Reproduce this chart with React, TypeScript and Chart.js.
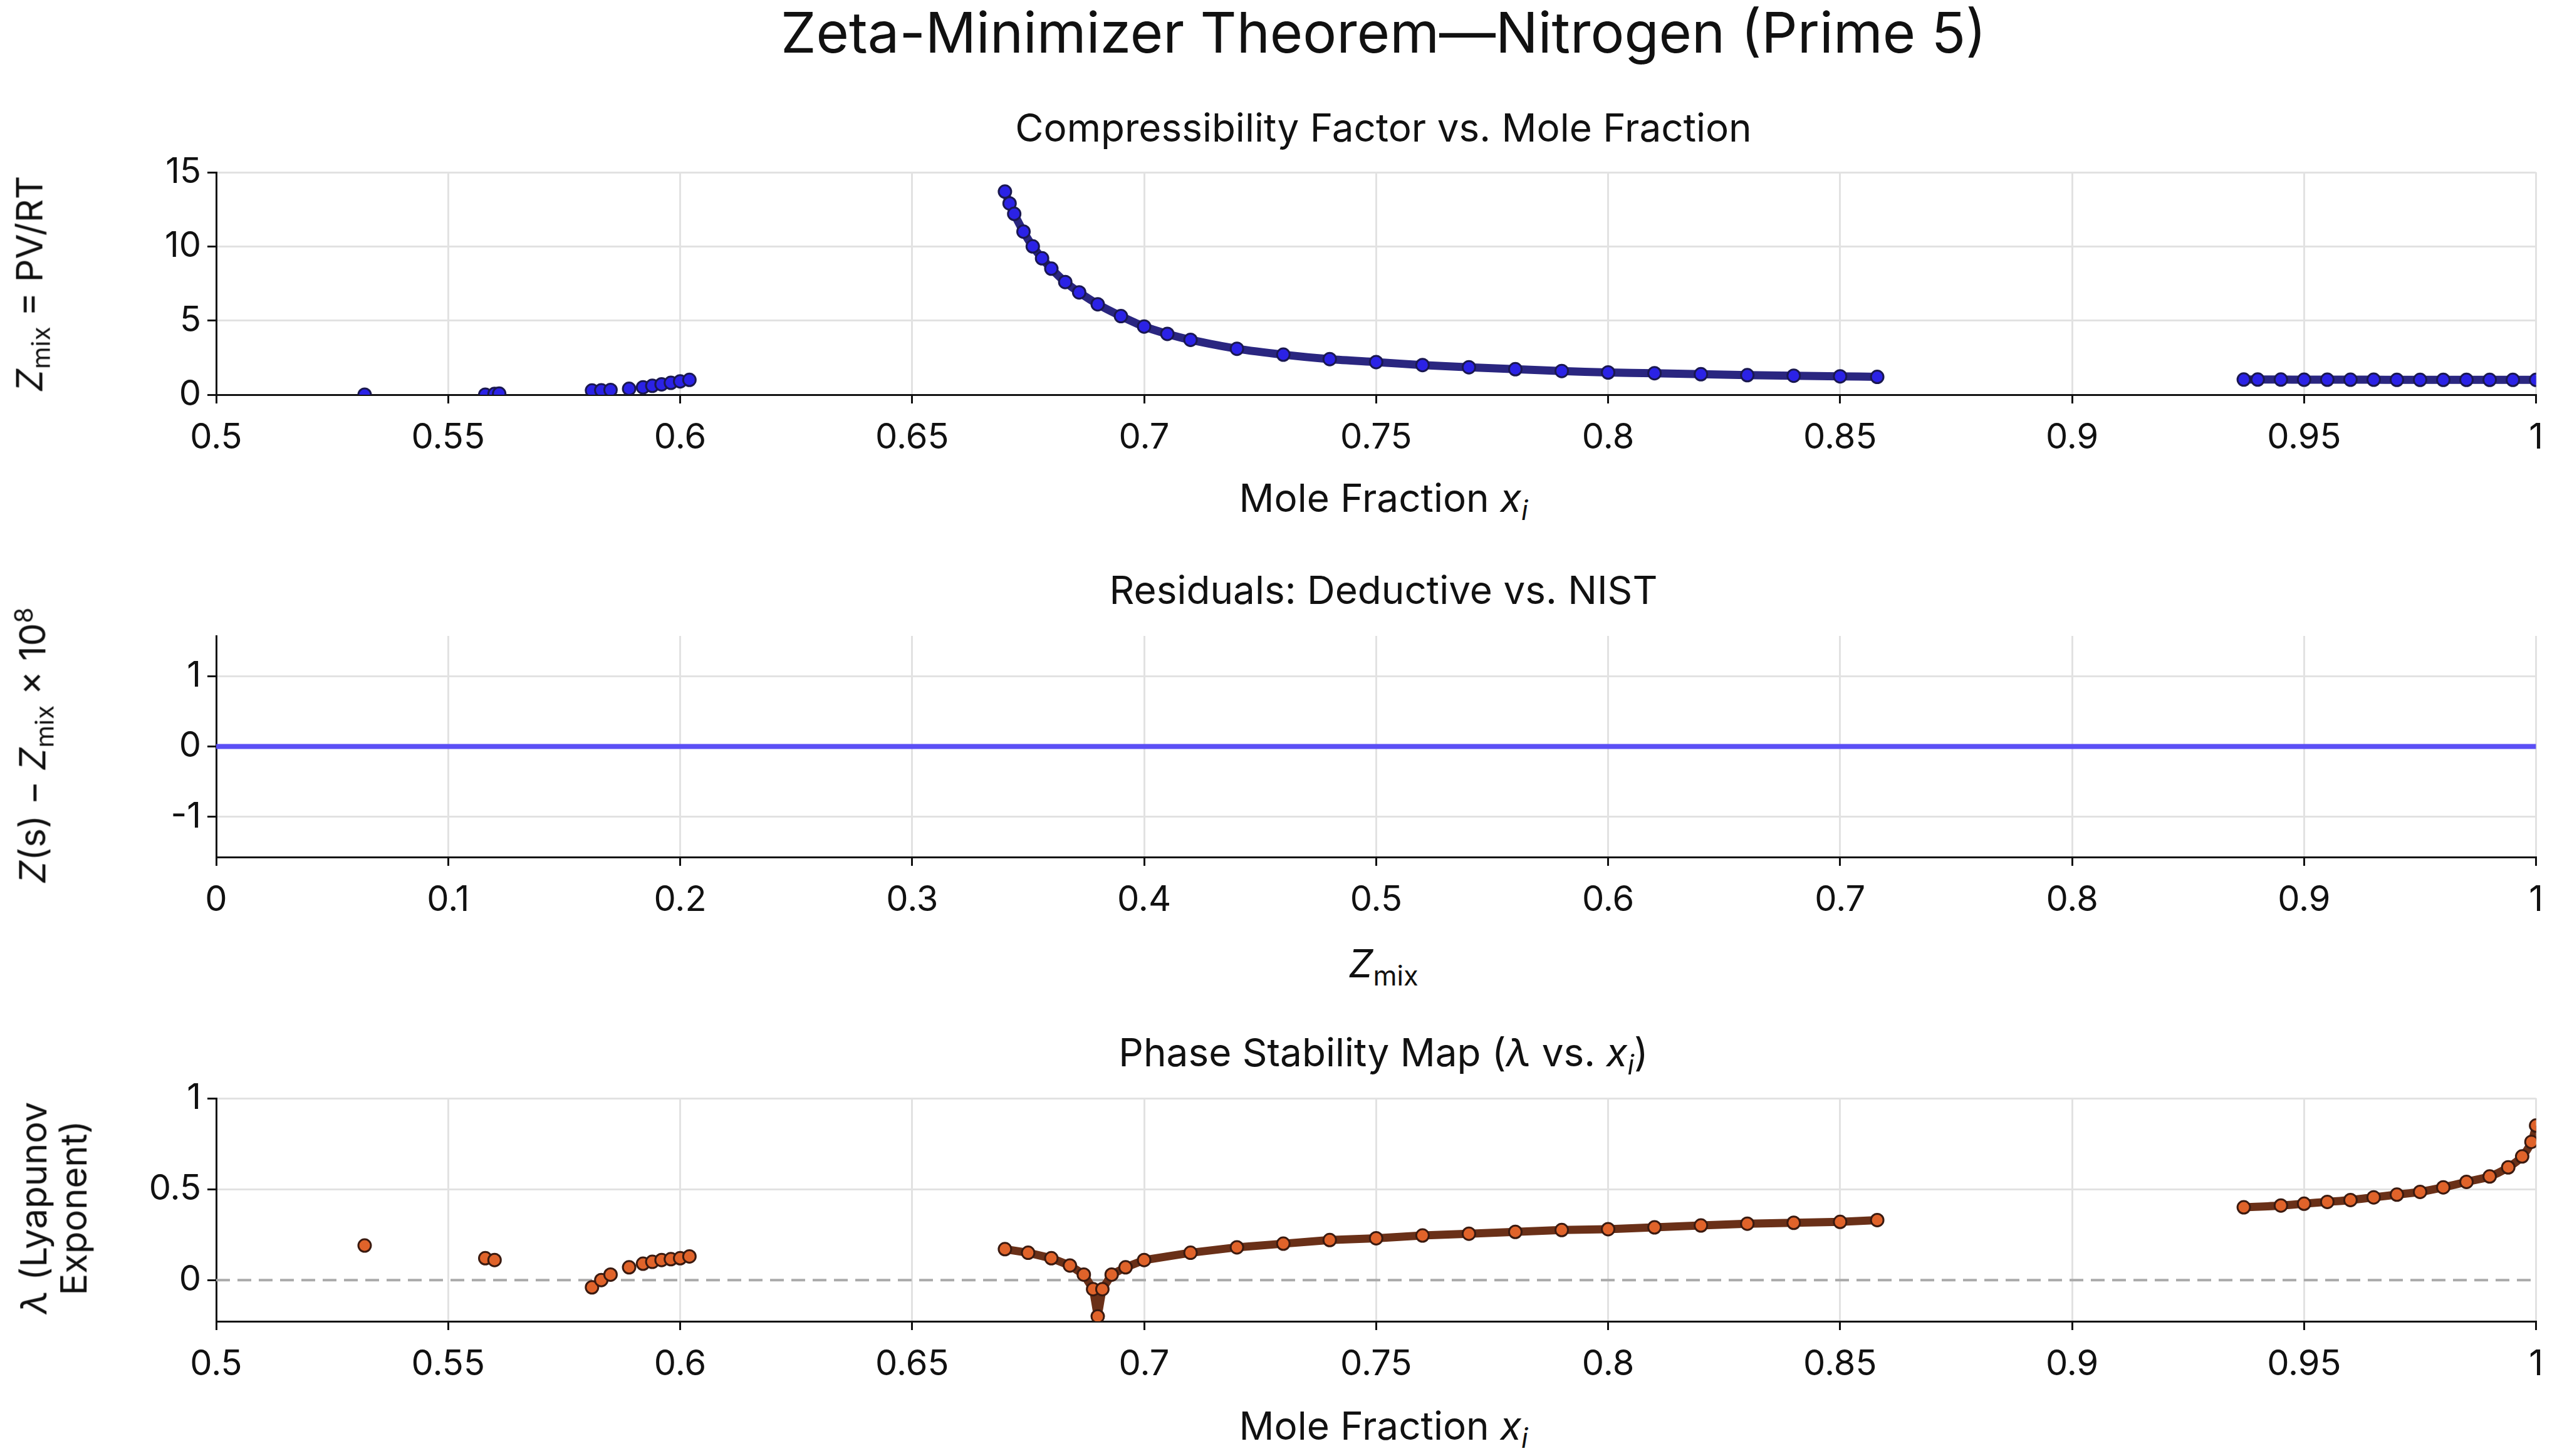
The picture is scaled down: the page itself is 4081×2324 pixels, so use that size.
import React, { useEffect, useRef } from "react";
import { Chart, registerables } from "chart.js";
Chart.register(...registerables);

const W = 4081;
const FONT = "Inter, 'Open Sans', sans-serif";
const PT = 45;

// Panel 1: Z_mix vs x_i
const zSparseX = [0.532, 0.558, 0.560, 0.561, 0.581, 0.583, 0.585, 0.589, 0.592, 0.594, 0.596, 0.598, 0.600, 0.602];
const zSparseY = [0.0, 0.0, 0.05, 0.07, 0.28, 0.3, 0.32, 0.4, 0.5, 0.6, 0.7, 0.8, 0.9, 1.0];
const zMidX = [0.670, 0.671, 0.672, 0.674, 0.676, 0.678, 0.680, 0.683, 0.686, 0.690, 0.695, 0.700, 0.705, 0.710, 0.720, 0.730, 0.740, 0.750, 0.760, 0.770, 0.780, 0.790, 0.800, 0.810, 0.820, 0.830, 0.840, 0.850, 0.858];
const zMidY = [13.7, 12.9, 12.2, 11.0, 10.0, 9.2, 8.5, 7.6, 6.9, 6.1, 5.3, 4.6, 4.1, 3.7, 3.1, 2.7, 2.4, 2.2, 2.0, 1.85, 1.72, 1.6, 1.5, 1.45, 1.38, 1.32, 1.28, 1.24, 1.2];
const zHighX = [0.937, 0.940, 0.945, 0.950, 0.955, 0.960, 0.965, 0.970, 0.975, 0.980, 0.985, 0.990, 0.995, 1.000];
const zHighY = [1.02, 1.02, 1.02, 1.01, 1.01, 1.01, 1.01, 1.0, 1.0, 1.0, 1.0, 1.0, 1.0, 1.0];

// Panel 2: residuals
const resX = [0, 0.25, 0.5, 0.75, 1];
const resY = [0, 0, 0, 0, 0];

// Panel 3: Lyapunov exponent
const lSparseX = [0.532, 0.558, 0.560, 0.581, 0.583, 0.585, 0.589, 0.592, 0.594, 0.596, 0.598, 0.600, 0.602];
const lSparseY = [0.19, 0.12, 0.11, -0.04, 0.0, 0.03, 0.07, 0.09, 0.10, 0.11, 0.115, 0.12, 0.13];
const lMidX = [0.670, 0.675, 0.680, 0.684, 0.687, 0.689, 0.690, 0.691, 0.693, 0.696, 0.700, 0.710, 0.720, 0.730, 0.740, 0.750, 0.760, 0.770, 0.780, 0.790, 0.800, 0.810, 0.820, 0.830, 0.840, 0.850, 0.858];
const lMidY = [0.17, 0.15, 0.12, 0.08, 0.03, -0.05, -0.2, -0.05, 0.03, 0.07, 0.11, 0.15, 0.18, 0.20, 0.22, 0.23, 0.245, 0.255, 0.265, 0.275, 0.28, 0.29, 0.30, 0.31, 0.315, 0.32, 0.33];
const lHighX = [0.937, 0.945, 0.950, 0.955, 0.960, 0.965, 0.970, 0.975, 0.980, 0.985, 0.990, 0.994, 0.997, 0.999, 1.000];
const lHighY = [0.40, 0.41, 0.42, 0.43, 0.44, 0.455, 0.47, 0.485, 0.51, 0.54, 0.57, 0.62, 0.68, 0.76, 0.85];

const pts = (xs: number[], ys: number[]) => xs.map((x, i) => ({ x, y: ys[i] }));
const fmt = (v: any) => String(+Number(v).toFixed(3));

function makeOpts(xmin: number, xmax: number, xstep: number, ymin: number, ymax: number, yticks: number[], zeroDash: boolean) {
  return {
    responsive: false,
    animation: false,
    devicePixelRatio: 1,
    layout: { padding: { left: 0, right: 10, top: PT, bottom: 0 } },
    plugins: { legend: { display: false }, tooltip: { enabled: false } },
    scales: {
      x: {
        type: "linear", min: xmin, max: xmax,
        ticks: { stepSize: xstep, callback: fmt, font: { family: FONT, size: 56 }, color: "#111", padding: 22 },
        grid: { color: "#e2e2e2", lineWidth: 3, tickLength: 14, tickColor: "#111" },
        border: { color: "#111", width: 3 },
        afterFit: (s: any) => { s.height = 100; },
      },
      y: {
        type: "linear", min: ymin, max: ymax,
        afterBuildTicks: (s: any) => { s.ticks = yticks.map((v) => ({ value: v })); },
        ticks: { callback: fmt, font: { family: FONT, size: 56 }, color: "#111", padding: 10 },
        grid: {
          color: (c: any) => (zeroDash && c.tick && c.tick.value === 0 ? "rgba(0,0,0,0)" : "#e2e2e2"),
          lineWidth: 3, tickLength: 14, tickColor: "#111",
        },
        border: { color: "#111", width: 3 },
        afterFit: (s: any) => { s.width = 345; },
      },
    },
  } as any;
}

const dashZero = {
  id: "dashZero",
  beforeDatasetsDraw(chart: any, _a: any, opts: any) {
    if (!opts || !opts.on) return;
    const { ctx, chartArea } = chart;
    const y = chart.scales.y.getPixelForValue(0);
    ctx.save();
    ctx.strokeStyle = "#aaaaaa";
    ctx.lineWidth = 4;
    ctx.setLineDash([22, 12]);
    ctx.beginPath();
    ctx.moveTo(chartArea.left, y);
    ctx.lineTo(chartArea.right, y);
    ctx.stroke();
    ctx.restore();
  },
};

function Panel({ top, plotH, config }: { top: number; plotH: number; config: any }) {
  const ref = useRef<HTMLCanvasElement>(null);
  const height = PT + plotH + 100;
  useEffect(() => {
    const c = new Chart(ref.current as any, config);
    return () => c.destroy();
  }, []);
  return <canvas ref={ref} width={W} height={height} style={{ position: "absolute", left: 0, top: top - PT, width: W, height }} />;
}

const blueFill = "#2b22e6", blueEdge = "#1a1850";
const orFill = "#e0632a", orEdge = "#3a1a10";

function sc(data: any[], fill: string, edge: string, dense: boolean, lineCol = edge) {
  return {
    type: "scatter", data, showLine: dense,
    borderColor: lineCol, borderWidth: dense ? 13 : 2,
    pointBackgroundColor: fill, pointBorderColor: edge, pointBorderWidth: 3,
    pointRadius: 10, tension: 0.3,
  };
}

const cfg1 = {
  type: "scatter",
  data: { datasets: [sc(pts(zSparseX, zSparseY), blueFill, blueEdge, false), sc(pts(zMidX, zMidY), blueFill, blueEdge, true, "#2a2680"), sc(pts(zHighX, zHighY), blueFill, blueEdge, true, "#2a2680")] },
  options: makeOpts(0.5, 1, 0.05, 0, 15, [0, 5, 10, 15], false),
};
const cfg2 = {
  type: "line",
  data: { datasets: [{ data: pts(resX, resY), borderColor: "#5b4ff5", borderWidth: 8, pointRadius: 0 }] },
  options: makeOpts(0, 1, 0.1, -1.57, 1.57, [-1, 0, 1], false),
};
const opts3 = makeOpts(0.5, 1, 0.05, -0.227, 1, [0, 0.5, 1], true);
opts3.plugins.dashZero = { on: true };
const cfg3 = {
  type: "scatter",
  data: { datasets: [sc(pts(lSparseX, lSparseY), orFill, orEdge, false), { ...sc(pts(lMidX, lMidY), orFill, orEdge, true, "#6a3018"), tension: 0 }, sc(pts(lHighX, lHighY), orFill, orEdge, true, "#6a3018")] },
  options: opts3,
  plugins: [dashZero],
};

const txt = (s: any): React.CSSProperties => ({ position: "absolute", fontFamily: FONT, color: "#111", whiteSpace: "nowrap", ...s });
const center = (y: number, size: number): React.CSSProperties => txt({ left: 345, width: 3726, top: y - size * 0.6, fontSize: size, textAlign: "center", lineHeight: "1.2" });
const yLab = (x: number, y: number): React.CSSProperties => txt({ left: x, top: y, fontSize: 58, transform: "translate(-50%,-50%) rotate(-90deg)", lineHeight: "1.1" });
const sub: React.CSSProperties = { fontSize: "0.7em", verticalAlign: "-0.3em" };

export default function App() {
  return (
    <div style={{ position: "absolute", left: 0, top: 0, width: W, height: 2324, background: "#fff", overflow: "hidden" }}>
      <Panel top={275} plotH={355} config={cfg1} />
      <Panel top={1015} plotH={353} config={cfg2} />
      <Panel top={1753} plotH={356} config={cfg3} />
      <div style={center(52, 90)}>Zeta-Minimizer Theorem—Nitrogen (Prime 5)</div>
      <div style={center(204, 62)}>Compressibility Factor vs. Mole Fraction</div>
      <div style={center(795, 62)}>Mole Fraction <i>x<sub style={sub}>i</sub></i></div>
      <div style={center(942, 62)}>Residuals: Deductive vs. NIST</div>
      <div style={center(1538, 62)}><i>Z</i><sub style={sub}>mix</sub></div>
      <div style={center(1680, 62)}>Phase Stability Map (<i>λ</i> vs. <i>x<sub style={sub}>i</sub></i>)</div>
      <div style={center(2276, 62)}>Mole Fraction <i>x<sub style={sub}>i</sub></i></div>
      <div style={yLab(52, 453)}><i>Z</i><sub style={sub}>mix</sub> = PV/RT</div>
      <div style={yLab(55, 1190)}><i>Z</i>(s) − <i>Z</i><sub style={sub}>mix</sub> × 10<sup style={{ fontSize: "0.7em" }}>8</sup></div>
      <div style={{ ...yLab(86, 1928), textAlign: "center" }}><i>λ</i> (Lyapunov<br />Exponent)</div>
    </div>
  );
}
